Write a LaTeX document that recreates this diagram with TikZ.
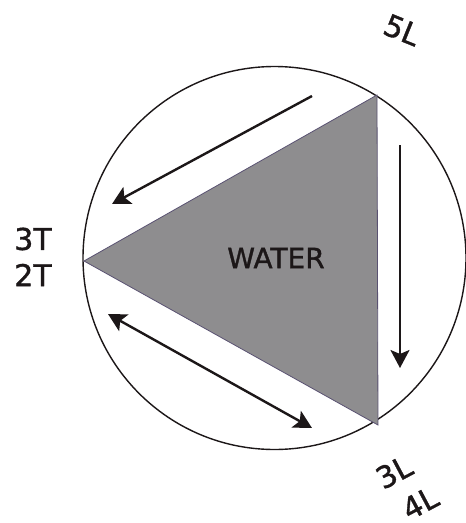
\documentclass[tikz,border=0pt]{standalone}
\usepackage{fontspec}
\setmainfont{DejaVu Sans}
\newfontfamily\handfont[FakeBold=1.2]{DejaVu Sans}
\usetikzlibrary{arrows.meta}
\definecolor{ink}{HTML}{1C1718}
\definecolor{watergrey}{HTML}{8E8D8F}
\definecolor{edge}{HTML}{5A5272}
\tikzset{
  lbl/.style={text=ink, inner sep=0pt, font=\handfont\fontsize{30}{30}\selectfont},
  flow/.style={draw=ink, line width=2.4pt, -{Stealth[length=18pt,width=19pt,inset=4pt]}},
  bothflow/.style={draw=ink, line width=2.4pt, {Stealth[length=18pt,width=19pt,inset=4pt]}-{Stealth[length=18pt,width=19pt,inset=4pt]}},
}
\begin{document}
\begin{tikzpicture}[x=1pt,y=-1pt]
\useasboundingbox (0,0) rectangle (466,523);
\fill[white] (0,0) rectangle (466,523);
% outer circle
\node[draw=ink, line width=1.4pt, circle, minimum size=383pt, inner sep=0pt] (circ) at (274.5,258) {};
% triangle
\coordinate (vtop) at (377,95);
\coordinate (vleft) at (84,261);
\coordinate (vbot) at (378,425);
\filldraw[fill=watergrey, draw=edge, line width=0.8pt] (vtop) -- (vleft) -- (vbot) -- cycle;
\node[lbl, font=\handfont\fontsize{28}{28}\selectfont] (water) at (276,258) {WATER};
% arrows
\coordinate (a1s) at (312,96);
\coordinate (a1e) at (112,204);
\draw[flow] (a1s) -- (a1e);
\coordinate (a2s) at (400,145);
\coordinate (a2e) at (400,368);
\draw[flow] (a2s) -- (a2e);
\coordinate (a3s) at (108,314);
\coordinate (a3e) at (312,428);
\draw[bothflow] (a3s) -- (a3e);
% labels
\node[lbl, rotate=-22] (l5) at (402,30) {5L};
\node[lbl] (t3) at (33,239) {3T};
\node[lbl] (t2) at (33,275) {2T};
\node[lbl, rotate=28] (l3) at (394,472) {3L};
\node[lbl, rotate=28] (l4) at (420,503) {4L};
\end{tikzpicture}
\end{document}
